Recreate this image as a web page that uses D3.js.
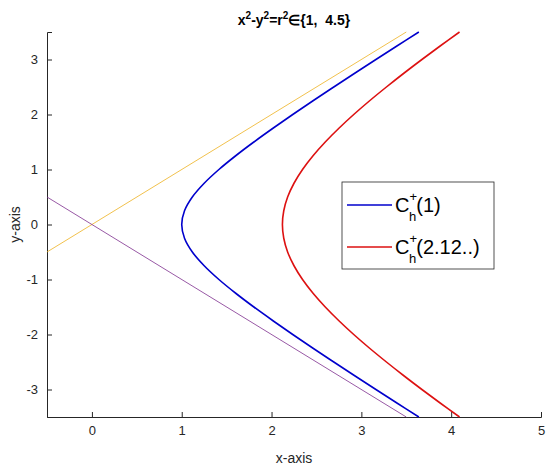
<!DOCTYPE html><html><head><meta charset="utf-8"><script src="https://cdn.jsdelivr.net/npm/d3@7"></script>
<style>body{margin:0;background:#fff}text{font-family:"Liberation Sans",Arial,sans-serif}</style></head><body>
<svg id="c" width="550" height="470"></svg>
<script>
const yVals=[-3.5,-3.25,-3,-2.75,-2.5,-2.25,-2,-1.75,-1.5,-1.25,-1,-0.75,-0.5,-0.25,0,0.25,0.5,0.75,1,1.25,1.5,1.75,2,2.25,2.5,2.75,3,3.25,3.5];
const xHalf1=[3.640,3.400,3.162,2.926,2.693,2.462,2.236,2.016,1.803,1.601,1.414,1.250,1.118,1.031,1.000];
const xHalf2=[4.093,3.881,3.674,3.473,3.279,3.092,2.915,2.750,2.598,2.462,2.345,2.250,2.179,2.136,2.121];
const x1=xHalf1.concat(xHalf1.slice(0,-1).reverse());
const x2=xHalf2.concat(xHalf2.slice(0,-1).reverse());
const asym1=[[-0.5,-0.5],[3.5,3.5]];
const asym2=[[-0.5,0.5],[3.5,-3.5]];
const xTicks=[0,1,2,3,4,5], yTicks=[-3,-2,-1,0,1,2,3];
const legendLabels=["1","2.12.."];
const svg=d3.select("#c");
const L=47,R=541,T=32,B=417;
const x=d3.scaleLinear().domain([-0.5,5]).range([L,R]);
const y=d3.scaleLinear().domain([-3.5,3.5]).range([B,T]);
const fmt=v=>String(v);
const ax=svg.append("g").attr("transform",`translate(0,${B})`).call(d3.axisBottom(x).tickValues(xTicks).tickFormat(fmt).tickSize(-5).tickPadding(9));
const ay=svg.append("g").attr("transform",`translate(${L},0)`).call(d3.axisLeft(y).tickValues(yTicks).tickFormat(fmt).tickSize(-5).tickPadding(9));
[ax,ay].forEach(a=>{a.selectAll("path,line").attr("stroke","#262626");a.selectAll("text").attr("font-size",13).attr("fill","#262626").style("font-family","Liberation Sans, Arial")});
const line=d3.line().x(d=>x(d[0])).y(d=>y(d[1]));
svg.append("path").attr("d",line(asym1)).attr("stroke","#EDB120").attr("stroke-width",0.8).attr("fill","none");
svg.append("path").attr("d",line(asym2)).attr("stroke","#7E2F8E").attr("stroke-width",0.8).attr("fill","none");
const cl=d3.line().x(d=>x(d[0])).y(d=>y(d[1])).curve(d3.curveCatmullRom);
svg.append("path").attr("d",cl(x1.map((v,i)=>[v,yVals[i]]))).attr("stroke","#0000CC").attr("stroke-width",1.6).attr("fill","none");
svg.append("path").attr("d",cl(x2.map((v,i)=>[v,yVals[i]]))).attr("stroke","#DD1111").attr("stroke-width",1.6).attr("fill","none");
const t=svg.append("text").attr("x",294).attr("y",25).attr("text-anchor","middle").attr("font-size",14).attr("font-weight","bold").attr("fill","#000");
t.append("tspan").text("x");t.append("tspan").attr("dy",-6).attr("font-size",10).text("2");
t.append("tspan").attr("dy",6).text("-y");t.append("tspan").attr("dy",-6).attr("font-size",10).text("2");
t.append("tspan").attr("dy",6).text("=r");t.append("tspan").attr("dy",-6).attr("font-size",10).text("2");
t.append("tspan").attr("dy",6).text("\u2208{1,\u00a0\u00a04.5}");
svg.append("text").attr("x",x(2.25)).attr("y",463).attr("text-anchor","middle").attr("font-size",14).attr("fill","#262626").text("x-axis");
svg.append("text").attr("transform",`translate(20,${(T+B)/2}) rotate(-90)`).attr("text-anchor","middle").attr("font-size",14).attr("fill","#262626").text("y-axis");
svg.append("rect").attr("x",342).attr("y",182).attr("width",152).attr("height",87).attr("fill","#fff").attr("stroke","#262626").attr("stroke-width",0.8);
const lc=["#0000CC","#DD1111"];
legendLabels.forEach((lab,i)=>{
 const yy=205+i*42;
 svg.append("line").attr("x1",347).attr("x2",392).attr("y1",yy).attr("y2",yy).attr("stroke",lc[i]).attr("stroke-width",1.6);
 const g=svg.append("text").attr("x",395).attr("y",yy+7).attr("font-size",20).attr("fill","#000");
 g.append("tspan").text("C");
 g.append("tspan").attr("dy",-11).attr("font-size",13).text("+");
 g.append("tspan").attr("dx",-8).attr("dy",20).attr("font-size",13).text("h");
 g.append("tspan").attr("dy",-9).text("("+lab+")");
});
</script></body></html>
